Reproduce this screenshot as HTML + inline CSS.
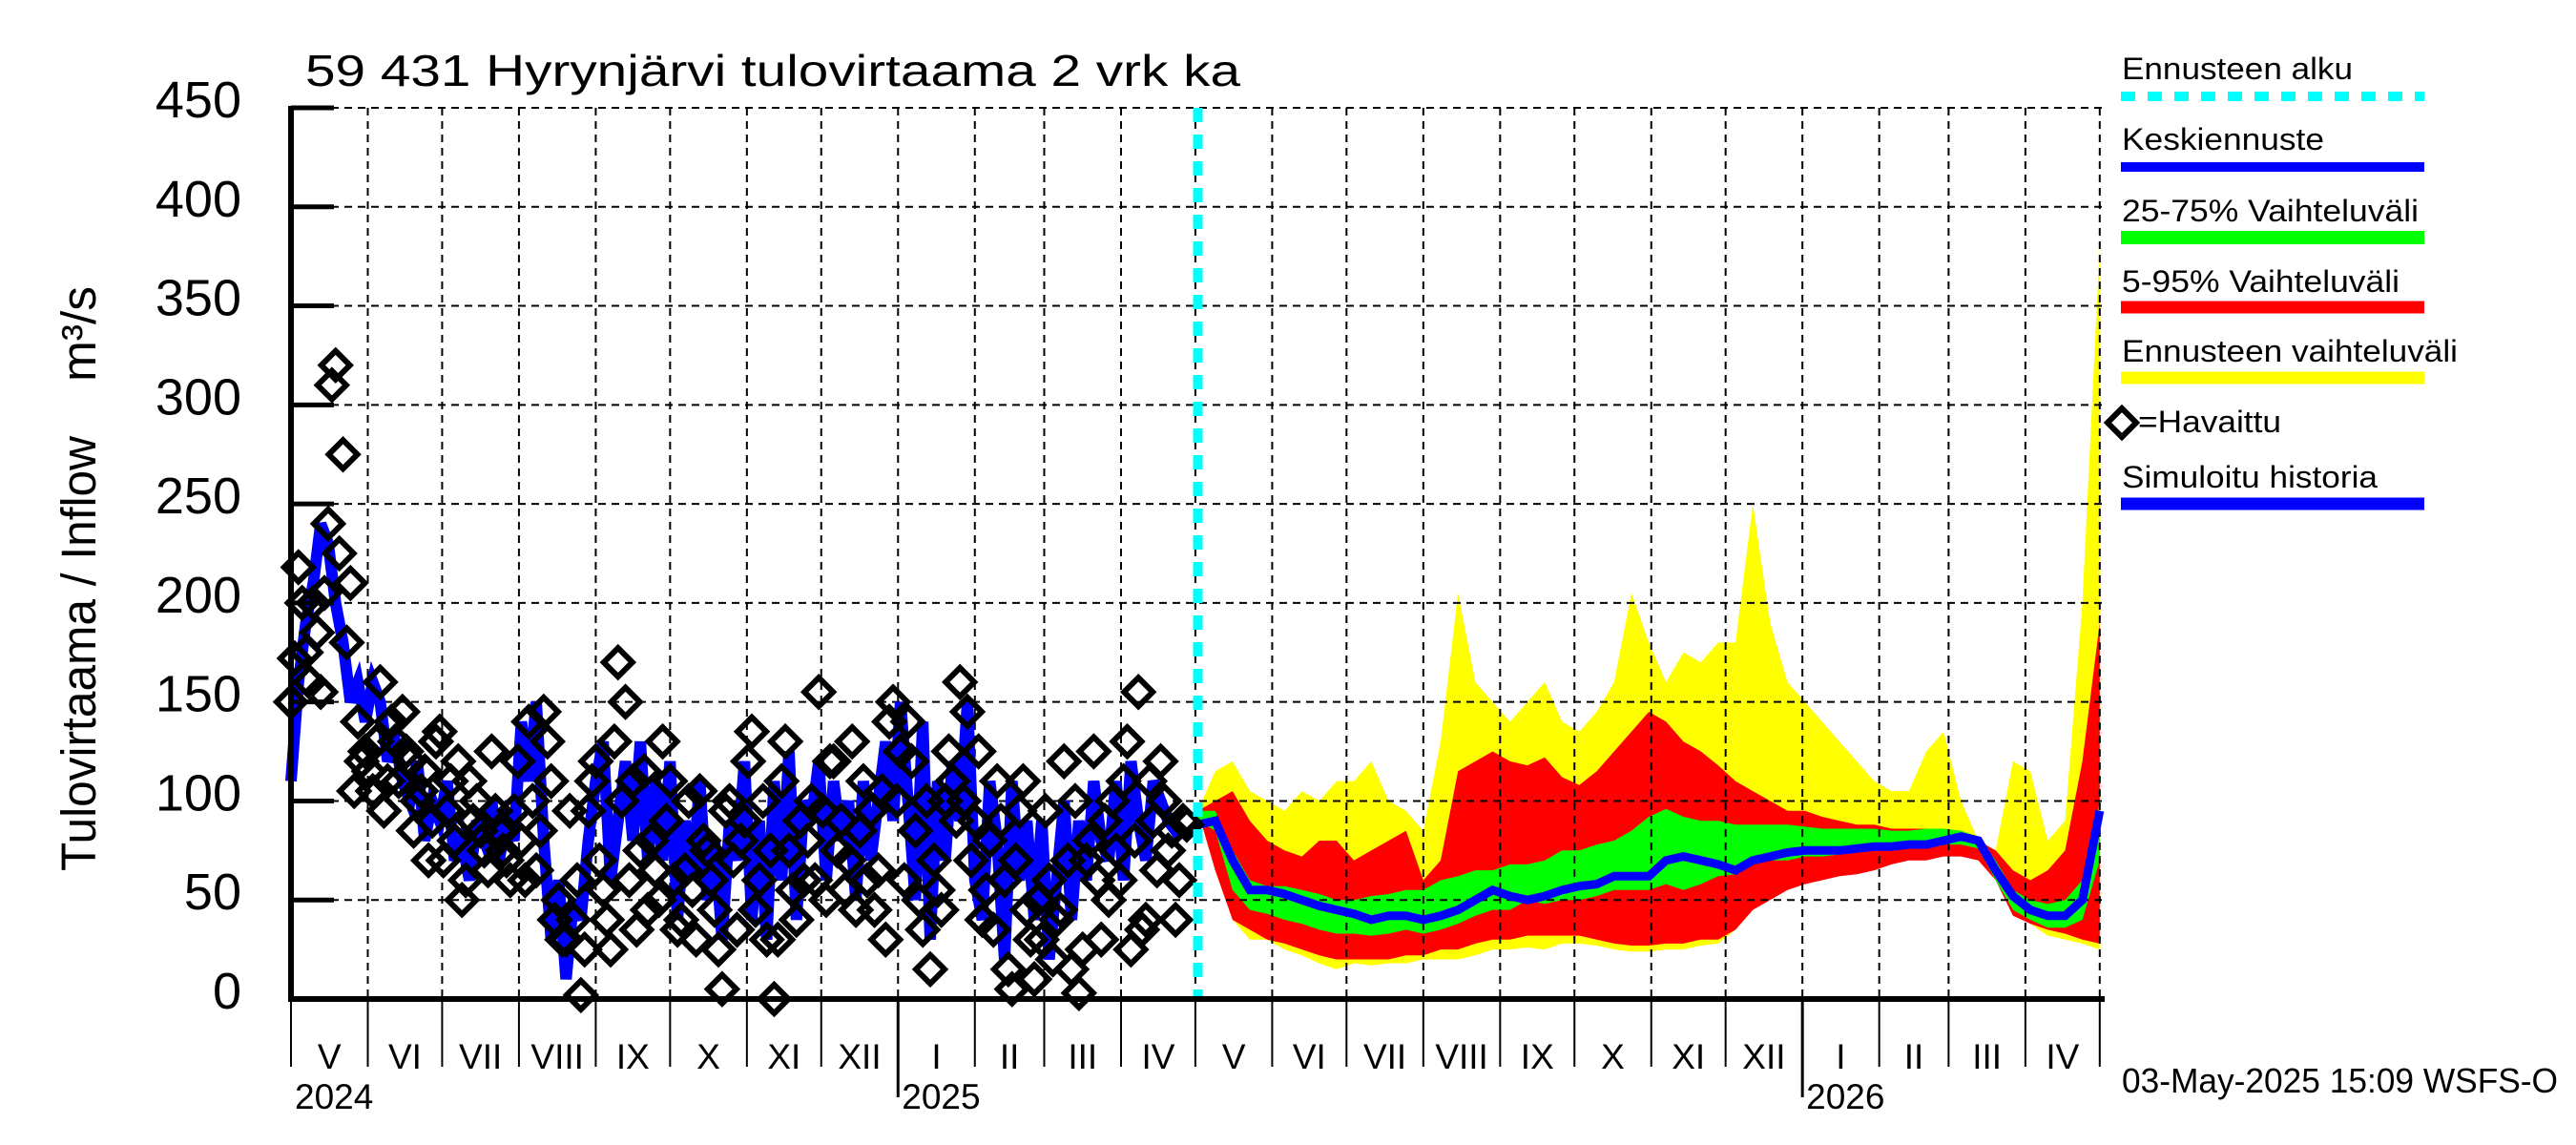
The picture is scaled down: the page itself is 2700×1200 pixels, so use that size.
<!DOCTYPE html>
<html><head><meta charset="utf-8"><style>
html,body{margin:0;padding:0;background:#fff;}
svg{display:block;font-family:"Liberation Sans",sans-serif;}
</style></head><body>
<svg id="chart" width="2700" height="1200" viewBox="0 0 2700 1200" xmlns="http://www.w3.org/2000/svg">
<rect x="0" y="0" width="2700" height="1200" fill="#fff"/>
<g id="bands"></g>
<g id="grid"></g>
<g id="hist"></g>
<g id="axes"></g>
<text x="320" y="90" font-size="46" textLength="980" lengthAdjust="spacingAndGlyphs">59 431 Hyrynjärvi tulovirtaama 2 vrk ka</text>
<text transform="translate(100,913) rotate(-90)" font-size="51" textLength="456" lengthAdjust="spacingAndGlyphs">Tulovirtaama / Inflow</text>
<text transform="translate(100,400) rotate(-90)" font-size="51" textLength="100" lengthAdjust="spacingAndGlyphs">m³/s</text>
<g font-size="32">
  <text x="2224" y="83" textLength="242" lengthAdjust="spacingAndGlyphs">Ennusteen alku</text>
  <line x1="2223" y1="101" x2="2541" y2="101" stroke="#00ffff" stroke-width="10" stroke-dasharray="15,13"/>
  <text x="2224" y="157" textLength="212" lengthAdjust="spacingAndGlyphs">Keskiennuste</text>
  <line x1="2223" y1="175" x2="2541" y2="175" stroke="#0000ff" stroke-width="10"/>
  <text x="2224" y="232" textLength="311" lengthAdjust="spacingAndGlyphs">25-75% Vaihteluväli</text>
  <line x1="2223" y1="249" x2="2541" y2="249" stroke="#00ff00" stroke-width="14"/>
  <text x="2224" y="306" textLength="291" lengthAdjust="spacingAndGlyphs">5-95% Vaihteluväli</text>
  <line x1="2223" y1="322" x2="2541" y2="322" stroke="#ff0000" stroke-width="13"/>
  <text x="2224" y="379" textLength="352" lengthAdjust="spacingAndGlyphs">Ennusteen vaihteluväli</text>
  <line x1="2223" y1="396" x2="2541" y2="396" stroke="#ffff00" stroke-width="13"/>
  <polygon points="2224,428 2239,443 2224,458 2209,443" fill="none" stroke="#000" stroke-width="6"/>
  <text x="2241" y="453" textLength="150" lengthAdjust="spacingAndGlyphs">=Havaittu</text>
  <text x="2224" y="511" textLength="268" lengthAdjust="spacingAndGlyphs">Simuloitu historia</text>
  <line x1="2223" y1="528" x2="2541" y2="528" stroke="#0000ff" stroke-width="13"/>
</g>
<text x="2224" y="1145" font-size="36" textLength="457" lengthAdjust="spacingAndGlyphs">03-May-2025 15:09 WSFS-O</text>
</svg>
<script>
// ---- data ----
const yTicks = [0,50,100,150,200,250,300,350,400,450];
const monthLabels = ["I","II","III","IV","V","VI","VII","VIII","IX","X","XI","XII"];
const yearLabels = ["2024","2025","2026"];
// history sampled every 3 days from 1 May 2024
const observed = [150,218,175,200,155,240,320,275,210,140,
 125,105,160,110,130,145,120,100,115,90,
 135,95,80,50,110,100,75,125,85,70,
 95,80,140,65,145,110,50,30,40,2,
 95,120,55,25,170,150,110,75,45,65,
 130,110,35,65,55,105,75,45,5,100,
 35,90,135,60,30,0,110,75,40,60,
 100,155,50,120,90,70,45,110,95,65,
 30,150,125,140,85,35,15,55,100,110,
 160,145,90,40,80,110,60,5,95,45,
 10,30,60,40,120,15,3,70,125,30,
 50,75,110,25,155,40,90,120,75,40,90];
const observed2 = [172,200,160,185,205,310,225,180,105,120,
 115,130,95,140,110,125,85,105,70,130,
 70,110,120,60,90,85,65,95,75,60,
 120,60,100,85,130,40,30,95,60,25,
 110,70,40,130,100,60,35,115,80,50,
 90,60,40,100,30,80,60,25,95,70,
 80,120,45,100,75,30,130,55,90,80,
 60,95,120,75,55,130,85,60,45,105,
 140,100,60,120,50,100,70,45,125,90,
 100,70,125,55,35,90,15,70,110,30,
 50,95,20,45,70,100,25,80,60,90,
 100,60,130,80,35,110,65,100,85,60,88];
const simulated = [110,160,190,210,240,230,200,180,150,160,
 140,160,150,120,130,110,100,120,80,100,
 90,110,70,80,60,90,80,100,70,90,
 80,140,110,150,80,30,60,10,50,40,
 80,110,130,60,90,120,80,130,70,110,
 70,120,40,90,60,110,50,80,30,90,
 70,120,40,90,30,110,60,125,40,100,
 90,120,60,110,80,100,50,110,70,100,
 130,90,150,100,50,140,30,110,70,120,
 90,150,60,40,110,80,20,110,60,90,
 40,90,20,60,100,40,90,60,110,80,
 70,110,60,120,90,70,110,100,90,85,88];
// forecast sampled weekly from 2 May 2025
const fcMax = [95,115,120,105,100,95,105,100,110,110,120,100,95,85,130,205,160,150,140,150,160,140,135,145,160,205,180,160,175,170,180,180,250,190,160,150,140,130,120,110,105,105,125,135,100,80,75,120,115,80,90,200,380];
const fcMin = [95,70,40,30,30,25,22,18,15,18,17,18,18,20,20,20,22,25,25,26,25,28,28,27,25,24,24,25,25,27,28,35,45,55,60,60,65,68,70,70,72,75,78,78,75,70,60,45,38,32,30,28,25];
const fcP95 = [95,100,105,90,80,75,72,80,80,70,75,80,85,60,70,115,120,125,120,118,122,112,108,115,125,135,145,140,130,125,118,110,105,100,95,95,92,90,88,88,86,86,86,84,82,80,75,65,60,65,75,120,190];
const fcP05 = [95,65,40,35,30,28,25,22,20,20,20,20,22,22,25,25,28,30,30,32,32,32,32,30,28,27,27,28,28,30,30,35,45,50,55,58,60,62,63,65,68,70,70,72,72,70,60,42,38,35,33,30,28];
const fcP75 = [95,95,75,60,57,57,55,53,50,50,52,53,55,55,60,62,65,65,68,68,70,75,75,78,80,85,92,96,92,90,90,88,88,88,88,87,86,86,86,86,85,85,86,86,85,82,70,55,50,48,50,60,100];
const fcP25 = [90,85,55,45,43,40,38,35,33,33,32,33,35,33,35,38,42,45,45,50,48,50,50,52,55,55,55,58,55,58,62,63,68,70,70,72,72,73,74,75,75,76,76,78,78,76,60,45,40,36,36,40,70];
const fcMed = [88,90,70,55,55,53,50,47,45,43,40,42,42,40,42,45,50,55,52,50,52,55,57,58,62,62,62,70,72,70,68,65,70,72,74,75,75,75,76,77,77,78,78,80,82,80,65,52,45,42,42,50,95];

// ---- scales ----
const NS="http://www.w3.org/2000/svg";
const X0=305, PXD=2.597, TOTAL=732, XEND=X0+TOTAL*PXD;
const Y0=1047, PXV=2.0756;
const START=Date.UTC(2024,4,1);
function dayOf(y,m,d){return (Date.UTC(y,m,d)-START)/86400000;}
function xOf(day){return X0+day*PXD;}
function yOf(v){return Y0-v*PXV;}
const FC_START=dayOf(2025,4,2);
function mk(tag,attrs,parent){const e=document.createElementNS(NS,tag);for(const k in attrs)e.setAttribute(k,attrs[k]);parent.appendChild(e);return e;}

const bands=document.getElementById('bands'), grid=document.getElementById('grid'), hist=document.getElementById('hist'), axes=document.getElementById('axes');

function fcX(i){return xOf(Math.min(FC_START+i*7,TOTAL));}
function bandPath(up,lo){
  let d='';
  up.forEach((v,i)=>{d+=(i?'L':'M')+fcX(i).toFixed(1)+','+yOf(v).toFixed(1);});
  for(let i=lo.length-1;i>=0;i--){d+='L'+fcX(i).toFixed(1)+','+yOf(lo[i]).toFixed(1);}
  return d+'Z';
}
const by=mk('path',{d:bandPath(fcMax,fcMin),fill:'#ffff00'},bands);


const br=mk('path',{d:bandPath(fcP95,fcP05),fill:'#ff0000'},bands);


const bg=mk('path',{d:bandPath(fcP75,fcP25),fill:'#00ff00'},bands);



// months (starting May 2024)
const months=[];
for(let y=2024,m=4;;){const d=dayOf(y,m,1);if(d>TOTAL)break;months.push({d,m,y});m++;if(m>11){m=0;y++;}}
yTicks.forEach(v=>{
  if(v>0){const g=mk('line',{x1:X0,y1:yOf(v),x2:XEND,y2:yOf(v),stroke:'#000','stroke-width':2,'stroke-dasharray':'8,6'},grid);
  
  }
});
months.forEach(mo=>{
  if(mo.d<=0) return;
  const g=mk('line',{x1:xOf(mo.d),y1:yOf(450),x2:xOf(mo.d),y2:Y0,stroke:'#000','stroke-width':2,'stroke-dasharray':'8,6'},grid);
  
  
});

// history
function linePts(arr,step){return arr.map((v,i)=>xOf(Math.min(i*step,FC_START)).toFixed(1)+','+yOf(v).toFixed(1)).join(' ');}
const sl=mk('polyline',{points:linePts(simulated,3),fill:'none',stroke:'#0000ff','stroke-width':12,'stroke-linejoin':'miter'},hist);


const ml=mk('polyline',{points:fcMed.map((v,i)=>fcX(i).toFixed(1)+','+yOf(v).toFixed(1)).join(' '),fill:'none',stroke:'#0000ff','stroke-width':9},hist);


function diamonds(arr,offset){
  arr.forEach((v,i)=>{
    const x=xOf(Math.min(i*3+offset,FC_START)),y=yOf(v),h=15;
    const p=mk('polygon',{points:`${x},${y-h} ${x+h},${y} ${x},${y+h} ${x-h},${y}`,fill:'none',stroke:'#000','stroke-width':6},hist);
    
    
  });
}
diamonds(observed,0);
diamonds(observed2,1.5);

// forecast start
const fs=mk('line',{x1:xOf(FC_START),y1:yOf(450),x2:xOf(FC_START),y2:Y0,stroke:'#00ffff','stroke-width':10,'stroke-dasharray':'15,13'},hist);



// axes
const la=mk('line',{x1:X0,y1:yOf(450)-2,x2:X0,y2:Y0+3,stroke:'#000','stroke-width':6},axes);


const ba=mk('line',{x1:X0,y1:Y0,x2:XEND,y2:Y0,stroke:'#000','stroke-width':6},axes);


yTicks.forEach(v=>{
  const t=mk('line',{x1:X0,y1:yOf(v),x2:X0+45,y2:yOf(v),stroke:'#000','stroke-width':5},axes);
  
  
  const tx=mk('text',{x:253,y:yOf(v)+10,'font-size':54,'text-anchor':'end'},axes);
  tx.textContent=String(v);
  
  
});
months.forEach((mo,k)=>{
  const x=xOf(mo.d), jan=mo.m===0;
  const t=mk('line',{x1:x,y1:Y0,x2:x,y2:jan?1150:1118,stroke:'#000','stroke-width':jan?3:2},axes);
  
  
  if(mo.d>TOTAL-20) return;
  const nx=k+1<months.length?xOf(months[k+1].d):XEND;
  const lb=mk('text',{x:(x+nx)/2,y:1120,'font-size':37,'text-anchor':'middle'},axes);
  lb.textContent=monthLabels[mo.m];
  
  
});
yearLabels.forEach(yr=>{
  const y=+yr, d=y===2024?0:dayOf(y,0,1);
  const lb=mk('text',{x:xOf(d)+4,y:1162,'font-size':37},axes);
  lb.textContent=yr;
  
  
});
</script>
</body></html>
